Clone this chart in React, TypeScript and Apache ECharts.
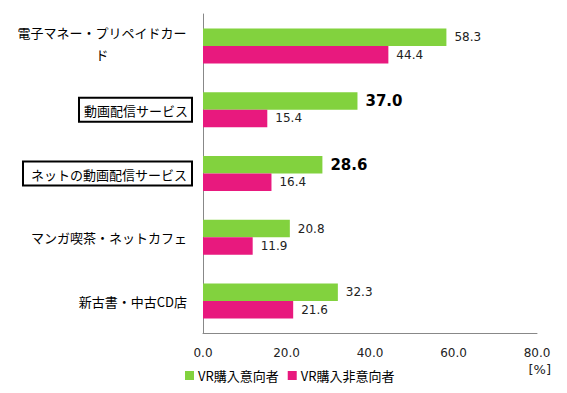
import React, { useEffect, useRef } from "react";
import * as echarts from "echarts";

const categories = [
  "電子マネー・プリペイドカード",
  "動画配信サービス",
  "ネットの動画配信サービス",
  "マンガ喫茶・ネットカフェ",
  "新古書・中古CD店",
];
const seriesNames = ["VR購入意向者", "VR購入非意向者"];
const intentValues = [58.3, 37.0, 28.6, 20.8, 32.3];
const nonIntentValues = [44.4, 15.4, 16.4, 11.9, 21.6];
const boxedCategories = [1, 2];
const boldIntentLabels = [1, 2];
const xTicks = [0, 20, 40, 60, 80];

const GREEN = "#82D23E";
const PINK = "#E8197E";
const JP = "'Noto Sans CJK JP', sans-serif";
const NUM = "'DejaVu Sans', Verdana, sans-serif";

export default function App() {
  const ref = useRef<HTMLDivElement>(null);
  useEffect(() => {
    if (!ref.current) return;
    const chart = echarts.init(ref.current, null, { renderer: "svg" });
    const yData = categories.map((c, i) => {
      if (boxedCategories.includes(i)) {
        return {
          value: c,
          textStyle: {
            borderColor: "#000",
            borderWidth: 2,
            padding: i === 1 ? [6, 4, 5, 5] : [6, 5, 5, 8],
          },
        };
      }
      if (i === 0) {
        return { value: c, textStyle: { padding: [0, 5, 4, 0] } };
      }
      return { value: c };
    });
    chart.setOption({
      animation: false,
      grid: { left: 203, top: 14, width: 334, height: 319, containLabel: false },
      legend: {
        left: 180,
        top: 364,
        itemWidth: 9,
        itemHeight: 9,
        itemGap: 9,
        icon: "rect",
        textStyle: { fontFamily: JP, fontSize: 13, color: "#000", padding: [0, 0, 0, -1] },
        data: seriesNames,
      },
      xAxis: {
        type: "value",
        min: xTicks[0],
        max: xTicks[xTicks.length - 1],
        interval: 20,
        axisLine: { show: true, lineStyle: { color: "#888", width: 1 } },
        axisTick: { show: false },
        splitLine: { show: false },
        axisLabel: {
          margin: 14,
          fontFamily: NUM,
          fontSize: 12,
          color: "#222",
          formatter: (v: number) => v.toFixed(1),
        },
      },
      yAxis: {
        type: "category",
        inverse: true,
        data: yData,
        axisLine: { show: true, lineStyle: { color: "#888", width: 1 } },
        axisTick: { show: false },
        axisLabel: {
          margin: 11,
          fontFamily: JP,
          fontSize: 13,
          color: "#000",
          padding: [0, 5, 0, 0],
          formatter: (v: string) =>
            v === categories[0]
              ? "{c|電子マネー・プリペイドカー}\n{c|ド}"
              : v,
          rich: {
            c: { width: 170, align: "center", fontFamily: JP, fontSize: 13, color: "#000", lineHeight: 22 },
          },
        },
      },
      series: [
        {
          name: seriesNames[0],
          type: "bar",
          barWidth: 17.5,
          barGap: "0%",
          itemStyle: { color: GREEN },
          label: {
            show: true,
            position: "right",
            distance: 8,
            fontFamily: NUM,
            fontSize: 12,
            color: "#222",
            formatter: (p: any) => Number(p.value).toFixed(1),
          },
          data: intentValues.map((v, i) =>
            boldIntentLabels.includes(i)
              ? { value: v, label: { fontSize: 15, fontWeight: "bold", color: "#000" } }
              : v
          ),
        },
        {
          name: seriesNames[1],
          type: "bar",
          barWidth: 17.5,
          barGap: "0%",
          itemStyle: { color: PINK },
          label: {
            show: true,
            position: "right",
            distance: 8,
            fontFamily: NUM,
            fontSize: 12,
            color: "#222",
            formatter: (p: any) => Number(p.value).toFixed(1),
          },
          data: nonIntentValues,
        },
      ],
      graphic: [
        {
          type: "text",
          right: 16,
          top: 363,
          style: { text: "[%]", fontFamily: NUM, fontSize: 13, fill: "#222" },
        },
      ],
    });
    return () => chart.dispose();
  }, []);
  return <div ref={ref} style={{ width: 567, height: 393, position: "absolute", left: 0, top: 0 }} />;
}
